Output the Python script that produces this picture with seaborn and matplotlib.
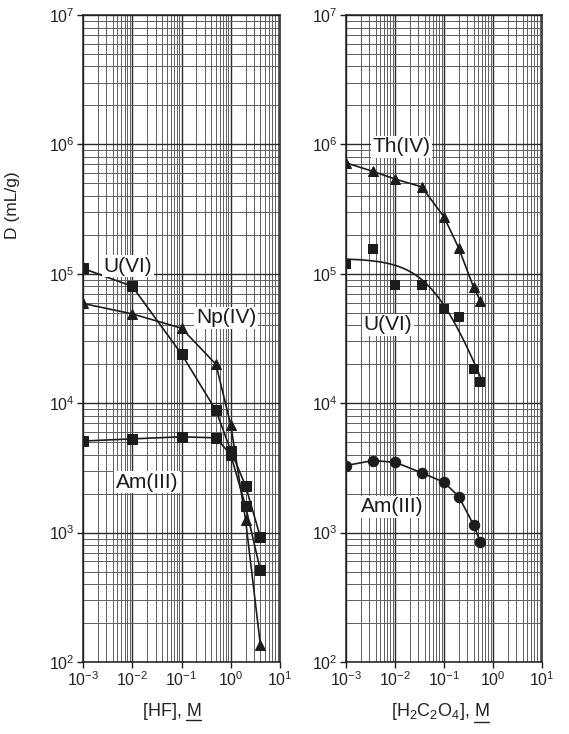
import numpy as np
import pandas as pd
import matplotlib
matplotlib.use("Agg")
import matplotlib.pyplot as plt
from matplotlib.lines import Line2D
from matplotlib.ticker import LogLocator, NullFormatter, LogFormatterSciNotation
import seaborn as sns

sns.set_theme(style="white")
plt.rcParams["font.family"] = ["Liberation Sans", "DejaVu Sans"]
plt.rcParams["mathtext.fontset"] = "custom"
plt.rcParams["mathtext.rm"] = "Liberation Sans"
plt.rcParams["mathtext.it"] = "Liberation Sans:italic"
plt.rcParams["mathtext.default"] = "regular"

# Distribution ratios vs. HF concentration
hf_conc = [0.001, 0.01, 0.1, 0.5, 1.0, 2.0, 4.0]
hf_u6 = [1.1e5, 8.0e4, 2.4e4, 8.8e3, 4.3e3, 2.3e3, 920]
hf_np4 = [5.9e4, 4.9e4, 3.8e4, 2.0e4, 6.8e3, 1.25e3, 135]
hf_am3 = [5.1e3, 5.3e3, 5.5e3, 5.4e3, 4.0e3, 1.6e3, 510]

# Distribution ratios vs. oxalic acid concentration
ox_conc = [0.001, 0.0035, 0.01, 0.035, 0.1, 0.2, 0.4, 0.55]
ox_th4 = [7.2e5, 6.2e5, 5.4e5, 4.7e5, 2.75e5, 1.58e5, 7.9e4, 6.2e4]
ox_u6 = [1.2e5, 1.55e5, 8.2e4, 8.2e4, 5.3e4, 4.6e4, 1.85e4, 1.45e4]
ox_am3 = [3.3e3, 3.6e3, 3.5e3, 2.9e3, 2.45e3, 1.9e3, 1.15e3, 850]
ox_u6_fit_end = 0.65

INK = "#1c1c1c"

fig = plt.figure(figsize=(5.69, 7.34), dpi=100)
fig.patch.set_facecolor("white")
W, H = 569, 734
top, bottom = 15, 662
ax1 = fig.add_axes([83 / W, 1 - bottom / H, 197 / W, (bottom - top) / H])
ax2 = fig.add_axes([346 / W, 1 - bottom / H, 196 / W, (bottom - top) / H])


def style_axes(ax):
    ax.set_xscale("log")
    ax.set_yscale("log")
    ax.set_xlim(1e-3, 1e1)
    ax.set_ylim(1e2, 1e7)
    ax.xaxis.set_major_locator(LogLocator(base=10, numticks=10))
    ax.yaxis.set_major_locator(LogLocator(base=10, numticks=10))
    ax.xaxis.set_minor_locator(LogLocator(base=10, subs=np.arange(2, 10), numticks=20))
    ax.yaxis.set_minor_locator(LogLocator(base=10, subs=np.arange(2, 10), numticks=20))
    ax.xaxis.set_major_formatter(LogFormatterSciNotation())
    ax.yaxis.set_major_formatter(LogFormatterSciNotation())
    ax.xaxis.set_minor_formatter(NullFormatter())
    ax.yaxis.set_minor_formatter(NullFormatter())
    ax.grid(True, which="minor", color="#5e5e5e", linewidth=0.7)
    ax.grid(True, which="major", color="#2a2a2a", linewidth=1.0)
    ax.set_axisbelow(True)
    ax.tick_params(which="major", direction="out", length=4, width=1, color=INK,
                   labelsize=11.5, labelcolor="#222222", pad=2,
                   bottom=True, left=True, top=False, right=False)
    ax.tick_params(which="minor", length=0)
    for s in ax.spines.values():
        s.set_color(INK)
        s.set_linewidth(1.1)
    ax.set_xlabel("")
    ax.set_ylabel("")


line_kw = dict(color=INK, linewidth=1.2, markersize=7.5, markeredgecolor=INK,
               markerfacecolor=INK, estimator=None, sort=False, legend=False)

# HF panel: points joined by straight segments
sns.lineplot(x=hf_conc, y=hf_u6, marker="s", ax=ax1, **line_kw)
sns.lineplot(x=hf_conc, y=hf_np4, marker="^", ax=ax1, **line_kw)
sns.lineplot(x=hf_conc, y=hf_am3, marker="s", ax=ax1, **line_kw)
style_axes(ax1)

# Oxalic acid panel
sns.lineplot(x=ox_conc, y=ox_th4, marker="^", ax=ax2, **line_kw)
sns.lineplot(x=ox_conc, y=ox_am3, marker="o", ax=ax2, **line_kw)

# U(VI): fitted curve D = 1 / (a + b*x) through the measured points
xu = np.array(ox_conc)
du = np.array(ox_u6)
b, a = np.polyfit(xu, 1.0 / du, 1, w=du)
x_fit = np.logspace(np.log10(ox_conc[0]), np.log10(ox_u6_fit_end), 200)
sns.lineplot(x=x_fit, y=1.0 / (a + b * x_fit), ax=ax2, color=INK, linewidth=1.2,
             estimator=None, sort=False, legend=False)
sns.scatterplot(x=ox_conc, y=ox_u6, marker="s", s=55, color=INK, edgecolor=INK,
                linewidth=0, ax=ax2, legend=False, zorder=3)
style_axes(ax2)

# Species labels
lab_kw = dict(fontsize=15, color="#1a1a1a", ha="center", va="center",
              bbox=dict(facecolor="white", edgecolor="none", pad=1.0), zorder=5)
ax1.text(0.228, 0.612, "U(VI)", transform=ax1.transAxes, **lab_kw)
ax1.text(0.726, 0.532, "Np(IV)", transform=ax1.transAxes, **lab_kw)
ax1.text(0.325, 0.278, "Am(III)", transform=ax1.transAxes, **lab_kw)
ax2.text(0.281, 0.796, "Th(IV)", transform=ax2.transAxes, **lab_kw)
ax2.text(0.214, 0.521, "U(VI)", transform=ax2.transAxes, **lab_kw)
ax2.text(0.235, 0.240, "Am(III)", transform=ax2.transAxes, **lab_kw)

# Axis titles
fig.text(13 / W, 1 - 205 / H, "D (mL/g)", rotation=90, ha="center", va="center",
         fontsize=12.5, color="#222222")
xl1 = fig.text(172 / W, 1 - 712 / H, "[HF], M", ha="center", va="center",
               fontsize=13, color="#222222")
xl2 = fig.text(440 / W, 1 - 712 / H, "[H$_2$C$_2$O$_4$], M", ha="center", va="center",
               fontsize=13, color="#222222")

# Underline the molarity unit "M" in both axis titles
fig.canvas.draw()
renderer = fig.canvas.get_renderer()
for t in (xl1, xl2):
    probe = fig.text(0, 0, "M", fontsize=13)
    mw = probe.get_window_extent(renderer).width
    probe.remove()
    ext = t.get_window_extent(renderer)
    x1 = ext.x1
    x0 = x1 - mw
    yb = ext.y0 + 1
    fx0, fy = fig.transFigure.inverted().transform((x0, yb))
    fx1, _ = fig.transFigure.inverted().transform((x1, yb))
    fig.add_artist(Line2D([fx0, fx1], [fy, fy], color="#222222", linewidth=1.0,
                          transform=fig.transFigure))

fig.savefig("out.png", dpi=100, facecolor="white")
